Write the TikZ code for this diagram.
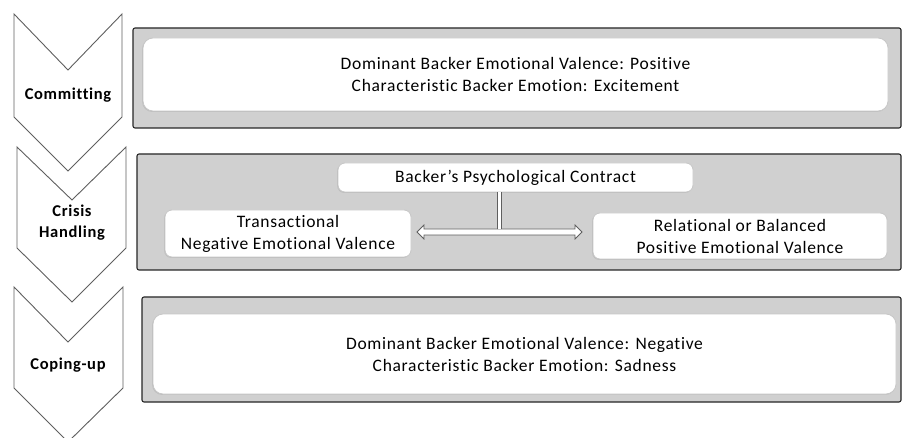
\documentclass[tikz,border=0pt]{standalone}
\usepackage{fontspec}
\setmainfont{Carlito}[Ligatures=NoCommon, LetterSpace=4.0]
\usetikzlibrary{shapes.arrows,shadows}

\definecolor{fondgris}{RGB}{208,208,208}
\definecolor{traitgris}{RGB}{95,95,95}

\tikzstyle{etape} = [rectangle, draw=black!85, fill=fondgris, line width=1.1pt, rounded corners=2pt]
\tikzstyle{contenu} = [rectangle, draw=black!22, fill=white, line width=0.8pt, rounded corners=10pt, align=center, inner sep=0pt, font=\fontsize{17.5}{22}\selectfont, drop shadow={shadow xshift=-0.8pt, shadow yshift=-0.9pt, opacity=0.22}]
\tikzstyle{petit} = [contenu, rounded corners=7pt]
\tikzstyle{phase} = [draw=traitgris, fill=white, line width=0.9pt, line join=miter]
\tikzstyle{titre} = [align=center, font=\bfseries\fontsize{16.5}{21}\selectfont]
\tikzstyle{fleche} = [double arrow, draw=traitgris, fill=white, line width=0.8pt, minimum height=165pt, inner xsep=0pt, inner ysep=2.6pt, double arrow head extend=4pt]

\begin{document}
\begin{tikzpicture}[x=1pt, y=-1pt]
    \useasboundingbox (0,0) rectangle (902,438);

    %  phases (chevrons)
    \draw[phase] (14,14) -- (68,70) -- (122,14) -- (122,117) -- (68,171) -- (14,117) -- cycle;
    \draw[phase] (17,147) -- (72,200) -- (126,147) -- (126,248) -- (72,302) -- (17,248) -- cycle;
    \draw[phase] (14,287) -- (68,342) -- (123,287) -- (123,388) -- (68,442) -- (14,388) -- cycle;

    \node[titre] (C1) at (68,95) {Committing};
    \node[titre] (C2) at (72,223) {Crisis\\Handling};
    \node[titre] (C3) at (68,365) {Coping-up};

    %-------------------------------------------------------------
    \node[etape, minimum width=768pt, minimum height=100pt] (E1) at (517,78) {};
    \node[contenu, minimum width=745pt, minimum height=73pt] (T1) at (515.5,74.5)
        {Dominant Backer Emotional Valence: Positive\\Characteristic Backer Emotion: Excitement};

    %-------------------------------------------------------------
    \node[etape, minimum width=764pt, minimum height=116pt] (E2) at (519,212) {};
    \node[petit, minimum width=355pt, minimum height=29pt] (PC) at (515.5,177.5) {Backer’s Psychological Contract};
    \node[petit, minimum width=246pt, minimum height=47pt] (TR) at (288,233.5) {Transactional\\Negative Emotional Valence};
    \node[petit, minimum width=294pt, minimum height=46pt] (RB) at (740,236) {Relational or Balanced\\Positive Emotional Valence};

    \node[fleche] (DA) at (499.5,232) {};
    \draw[draw=traitgris, double=white, double distance=3.6pt, line width=0.8pt, shorten <=2.6pt] (DA.center) -- (DA.center |- PC.south);

    %-------------------------------------------------------------
    \node[etape, minimum width=759pt, minimum height=105pt] (E3) at (521.5,349.5) {};
    \node[contenu, minimum width=743pt, minimum height=80pt] (T3) at (524.5,354)
        {Dominant Backer Emotional Valence: Negative\\Characteristic Backer Emotion: Sadness};

\end{tikzpicture}
\end{document}
